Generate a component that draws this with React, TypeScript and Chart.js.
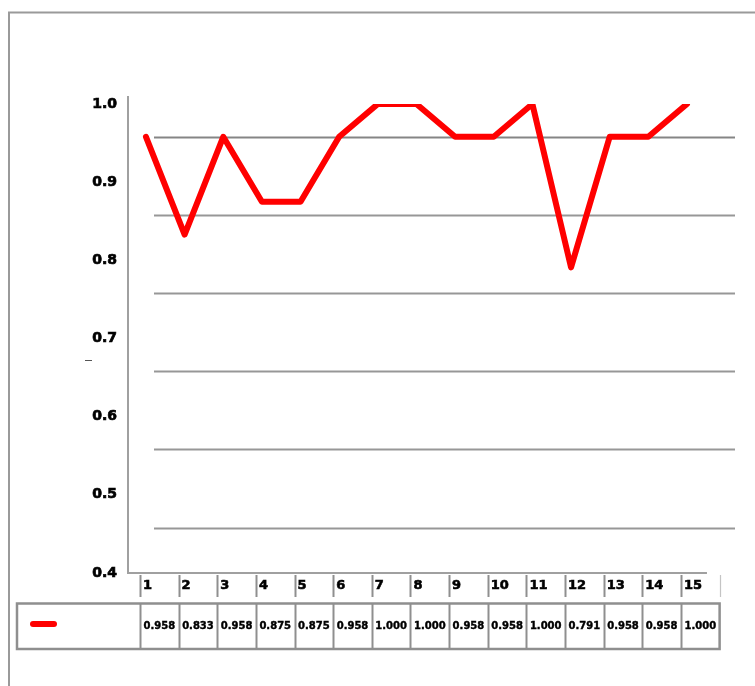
import React, { useEffect, useRef } from "react";
import { Chart, registerables } from "chart.js";

Chart.register(...registerables);

const categories = [1, 2, 3, 4, 5, 6, 7, 8, 9, 10, 11, 12, 13, 14, 15];
const xLabels = ["1", "2", "3", "4", "5", "6", "7", "8", "9", "10", "11", "12", "13", "14", "15"];
const values = [0.958, 0.833, 0.958, 0.875, 0.875, 0.958, 1.0, 1.0, 0.958, 0.958, 1.0, 0.791, 0.958, 0.958, 1.0];
const tableLabels = ["0.958", "0.833", "0.958", "0.875", "0.875", "0.958", "1.000", "1.000", "0.958", "0.958", "1.000", "0.791", "0.958", "0.958", "1.000"];
const gridValues = [0.958, 0.858, 0.758, 0.658, 0.558, 0.458];

const GRAY = "#8f8f8f";
const BOLD = "bold 13px 'DejaVu Sans', Verdana, sans-serif";

function heavyText(ctx: any, t: string, x: number, y: number, w: number) {
  ctx.lineWidth = w;
  ctx.strokeStyle = "#000";
  ctx.strokeText(t, x, y);
  ctx.fillText(t, x, y);
}

const decorPlugin = {
  id: "decor",
  beforeDatasetsDraw(chart: any) {
    const { ctx, chartArea, scales } = chart;
    const y = scales.y;
    const x = scales.x;
    ctx.save();
    // outer frame
    ctx.strokeStyle = "#9a9a9a";
    ctx.lineWidth = 2;
    ctx.beginPath();
    ctx.moveTo(8, 12.5);
    ctx.lineTo(755, 12.5);
    ctx.moveTo(9, 12);
    ctx.lineTo(9, 686);
    ctx.stroke();
    // offset gridlines
    gridValues.forEach((g, i) => {
      const py = Math.round(y.getPixelForValue(g)) + 0.5;
      ctx.strokeStyle = i === 0 ? "#858585" : "#979797";
      ctx.lineWidth = i === 0 ? 2.2 : 1.8;
      ctx.beginPath();
      ctx.moveTo(chartArea.left + 26, py);
      ctx.lineTo(chartArea.right + 15, py);
      ctx.stroke();
    });
    // axis lines
    ctx.strokeStyle = "#a0a0a0";
    ctx.lineWidth = 2;
    ctx.beginPath();
    ctx.moveTo(chartArea.left, chartArea.top - 8);
    ctx.lineTo(chartArea.left, chartArea.bottom);
    ctx.lineTo(x.getPixelForValue(categories[categories.length - 1]) + 20, chartArea.bottom);
    ctx.stroke();
    // small stray dash
    ctx.strokeStyle = "#555";
    ctx.lineWidth = 1;
    ctx.beginPath();
    ctx.moveTo(85, 360.5);
    ctx.lineTo(92, 360.5);
    ctx.stroke();
    ctx.restore();
  },
  afterDraw(chart: any) {
    const { ctx, chartArea, scales } = chart;
    const x = scales.x;
    const bound = (k: number) => x.getPixelForValue(k - 0.155);
    ctx.save();
    // tick marks below axis
    for (let k = 1; k <= categories.length + 1; k++) {
      const bx = Math.round(bound(k)) + 0.5;
      const last = k === categories.length + 1;
      ctx.strokeStyle = last ? "#c4c4c4" : GRAY;
      ctx.lineWidth = last ? 1.2 : 2;
      ctx.beginPath();
      ctx.moveTo(bx, chartArea.bottom + 2);
      ctx.lineTo(bx, chartArea.bottom + 24);
      ctx.stroke();
    }
    // category labels
    ctx.fillStyle = "#000";
    ctx.font = BOLD;
    ctx.textAlign = "left";
    ctx.textBaseline = "middle";
    xLabels.forEach((l, i) => {
      heavyText(ctx, l, bound(categories[i]) + 3, chartArea.bottom + 13, 0.6);
    });
    // data table
    const top = 603.5;
    const bottom = 649;
    const left = 17;
    const right = bound(categories.length + 1);
    ctx.strokeStyle = GRAY;
    ctx.lineWidth = 2.5;
    ctx.strokeRect(left, top, right - left, bottom - top);
    ctx.lineWidth = 2;
    for (let k = 1; k <= categories.length; k++) {
      const bx = Math.round(bound(k)) + 0.5;
      ctx.beginPath();
      ctx.moveTo(bx, top);
      ctx.lineTo(bx, bottom);
      ctx.stroke();
    }
    ctx.font = "bold 10px 'DejaVu Sans', Verdana, sans-serif";
    ctx.textAlign = "center";
    ctx.fillStyle = "#000";
    tableLabels.forEach((t, i) => {
      const cx = (bound(categories[i]) + bound(categories[i] + 1)) / 2;
      heavyText(ctx, t, cx, 626, 0.4);
    });
    // legend key
    ctx.strokeStyle = "#ff0000";
    ctx.lineWidth = 6;
    ctx.lineCap = "round";
    ctx.beginPath();
    ctx.moveTo(33, 624);
    ctx.lineTo(54, 624);
    ctx.stroke();
    ctx.restore();
  },
};

export default function App() {
  const ref = useRef<HTMLCanvasElement | null>(null);
  useEffect(() => {
    if (!ref.current) return;
    const chart = new Chart(ref.current, {
      type: "line",
      data: {
        datasets: [
          {
            data: categories.map((c, i) => ({ x: c, y: values[i] })),
            borderColor: "#ff0000",
            backgroundColor: "#ff0000",
            borderWidth: 6,
            pointRadius: 0,
            tension: 0,
            borderJoinStyle: "round",
            borderCapStyle: "round",
          },
        ],
      },
      options: {
        animation: false,
        responsive: false,
        devicePixelRatio: 1,
        layout: { padding: { left: 0, top: 104, right: 35, bottom: 113 } },
        plugins: { legend: { display: false }, tooltip: { enabled: false }, title: { display: false } },
        scales: {
          x: { type: "linear", display: false, min: 0.535, max: 15.855 },
          y: {
            type: "linear",
            min: 0.4,
            max: 1.0,
            afterFit: (s: any) => {
              s.width = 128;
            },
            grid: { display: false, drawTicks: false },
            border: { display: false },
            ticks: {
              stepSize: 0.1,
              padding: 11,
              color: "#000",
              textStrokeColor: "#000",
              textStrokeWidth: 0.7,
              font: { family: "'DejaVu Sans', Verdana, sans-serif", size: 14, weight: "bold" },
              callback: (v: any) => Number(v).toFixed(1),
            },
          },
        },
      },
      plugins: [decorPlugin],
    } as any);
    return () => chart.destroy();
  }, []);
  return (
    <div style={{ position: "fixed", left: 0, top: 0, width: 755, height: 686, background: "#fff" }}>
      <canvas ref={ref} width={755} height={686} style={{ display: "block" }} />
    </div>
  );
}
